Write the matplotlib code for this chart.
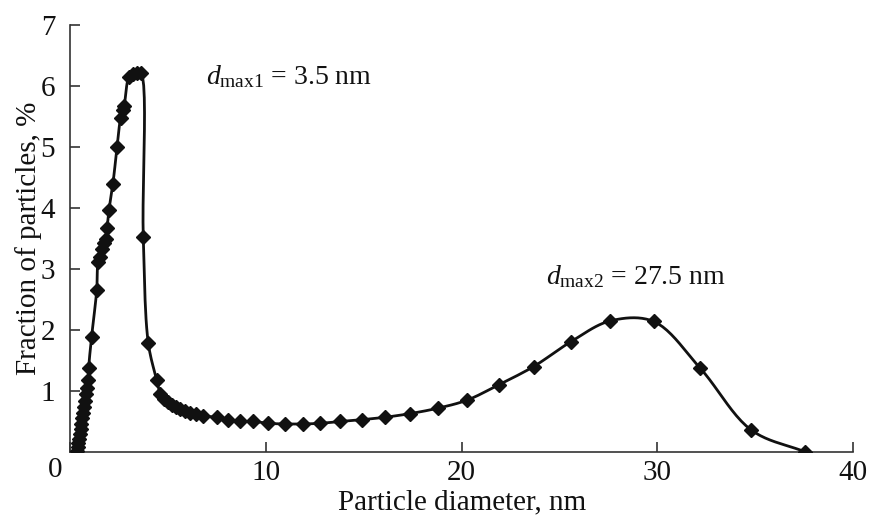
import numpy as np
import matplotlib
matplotlib.use("Agg")
import matplotlib.pyplot as plt

# ---- data ----
diameter = [0.32, 0.36, 0.40, 0.44, 0.48, 0.52, 0.56, 0.60, 0.65, 0.70, 0.75, 0.80, 0.86,
            0.91, 0.93, 1.08, 1.34, 1.41, 1.51, 1.61, 1.71, 1.82, 1.87, 1.97, 2.17, 2.38,
            2.56, 2.66, 2.74, 2.99, 3.20, 3.40, 3.60, 3.72, 3.98, 4.41, 4.60, 4.80, 5.00,
            5.20, 5.40, 5.60, 5.85, 6.10, 6.40, 6.79, 7.48, 8.07, 8.67, 9.35, 10.12, 10.97,
            11.88, 12.76, 13.78, 14.90, 16.09, 17.37, 18.80, 20.27, 21.88, 23.67, 25.59,
            27.60, 29.81, 32.20, 34.80, 37.57]
fraction = [0.02, 0.08, 0.15, 0.22, 0.30, 0.38, 0.46, 0.55, 0.64, 0.74, 0.84, 0.95, 1.05,
            1.18, 1.38, 1.89, 2.65, 3.12, 3.20, 3.32, 3.42, 3.50, 3.67, 3.97, 4.40, 5.00,
            5.48, 5.60, 5.67, 6.15, 6.20, 6.22, 6.22, 3.53, 1.78, 1.18, 0.95, 0.87, 0.82,
            0.77, 0.73, 0.70, 0.67, 0.64, 0.62, 0.59, 0.57, 0.53, 0.50, 0.50, 0.47, 0.46,
            0.46, 0.47, 0.50, 0.53, 0.57, 0.63, 0.72, 0.85, 1.10, 1.40, 1.81, 2.15, 2.14,
            1.37, 0.36, 0.00]
x_ticks = [0, 10, 20, 30, 40]
y_ticks = [0, 1, 2, 3, 4, 5, 6, 7]
label1 = r"$d_{\rm max1}$ = 3.5 nm"
label2 = r"$d_{\rm max2}$ = 27.5 nm"


def catmull_rom(x, y, sx=19.55, sy=61.0, n=12, alpha=0.5):
    P = np.column_stack([np.asarray(x) * sx, np.asarray(y) * sy])
    P = np.vstack([2 * P[0] - P[1], P, 2 * P[-1] - P[-2]])
    out = []
    for i in range(1, len(P) - 2):
        p0, p1, p2, p3 = P[i - 1], P[i], P[i + 1], P[i + 2]
        t0 = 0.0
        t1 = t0 + max(np.linalg.norm(p1 - p0), 1e-6) ** alpha
        t2 = t1 + max(np.linalg.norm(p2 - p1), 1e-6) ** alpha
        t3 = t2 + max(np.linalg.norm(p3 - p2), 1e-6) ** alpha
        t = np.linspace(t1, t2, n)[:, None]
        A1 = (t1 - t) / (t1 - t0) * p0 + (t - t0) / (t1 - t0) * p1
        A2 = (t2 - t) / (t2 - t1) * p1 + (t - t1) / (t2 - t1) * p2
        A3 = (t3 - t) / (t3 - t2) * p2 + (t - t2) / (t3 - t2) * p3
        B1 = (t2 - t) / (t2 - t0) * A1 + (t - t0) / (t2 - t0) * A2
        B2 = (t3 - t) / (t3 - t1) * A2 + (t - t1) / (t3 - t1) * A3
        C = (t2 - t) / (t2 - t1) * B1 + (t - t1) / (t2 - t1) * B2
        out.append(C if i == len(P) - 3 else C[:-1])
    C = np.vstack(out)
    return C[:, 0] / sx, C[:, 1] / sy


plt.rcParams["font.family"] = ["Liberation Serif", "DejaVu Serif"]
plt.rcParams["mathtext.fontset"] = "custom"
plt.rcParams["mathtext.rm"] = "Liberation Serif"
plt.rcParams["mathtext.it"] = "Liberation Serif:italic"

fig = plt.figure(figsize=(8.69, 5.19), dpi=100)
ax = fig.add_axes([0.0811, 0.1291, 0.9005, 0.8227])

sx, sy = catmull_rom(diameter, fraction)
ax.plot(sx, sy, color="#111111", lw=2.0, zorder=2)
ax.plot(diameter, fraction, linestyle="none", marker="D", markersize=7.6,
        color="#111111", zorder=3)

ax.set_xlim(0, 40)
ax.set_ylim(0, 7)
ax.set_xticks(x_ticks)
ax.set_xticklabels(["" if v == 0 else str(v) for v in x_ticks])
ax.set_yticks(y_ticks)
ax.set_yticklabels(["" if v == 0 else str(v) for v in y_ticks])
for s in ["top", "right"]:
    ax.spines[s].set_visible(False)
for s in ["left", "bottom"]:
    ax.spines[s].set_color("#333333")
    ax.spines[s].set_linewidth(1.2)
ax.tick_params(axis="both", direction="in", length=7, width=1.2, color="#333333",
               labelsize=21, labelcolor="#111111")
ax.tick_params(axis="y", pad=11)
ax.tick_params(axis="x", pad=6)

ax.set_xlabel("Particle diameter, nm", fontsize=21, color="#111111", labelpad=2)
ax.set_ylabel("Fraction of particles, %", fontsize=21, color="#111111", labelpad=-1)
fig.text(55 / 869, 1 - 470 / 519, "0", fontsize=21, color="#111111",
         ha="center", va="center")

ax.text(6.95, 6.15, label1, fontsize=20, color="#111111", ha="left", va="center")
ax.text(24.3, 2.87, label2, fontsize=20, color="#111111", ha="left", va="center")

fig.savefig("out.png", dpi=100)
